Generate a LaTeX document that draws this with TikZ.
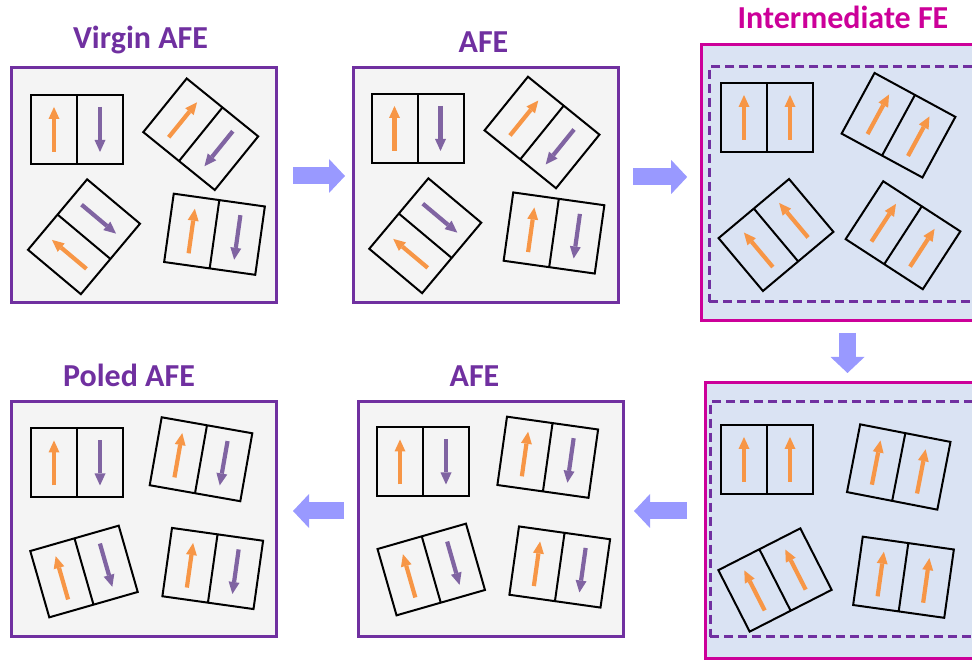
\documentclass[tikz,border=0pt]{standalone}
\usepackage{fontspec}
\setmainfont{Carlito}
\usetikzlibrary{arrows.meta}

\definecolor{afepurple}{HTML}{7030A0}
\definecolor{femagenta}{HTML}{CC0099}
\definecolor{afefill}{HTML}{F4F4F4}
\definecolor{fefill}{HTML}{DAE3F3}
\definecolor{flowblue}{HTML}{9999FF}
\definecolor{spinorange}{HTML}{F79646}
\definecolor{spinpurple}{HTML}{8064A2}

\tikzset{
  afepanel/.style={draw=afepurple, line width=3pt, fill=afefill,
    minimum width=265pt, minimum height=235pt, inner sep=0pt},
  fepanel/.style={draw=femagenta, line width=3pt, fill=fefill,
    minimum width=288pt, minimum height=276pt, inner sep=0pt},
  febound/.style={draw=afepurple, line width=3pt, dash pattern=on 9pt off 5pt,
    minimum width=266pt, minimum height=235pt, inner sep=0pt},
  afetitle/.style={text=afepurple, font=\bfseries\fontsize{32}{38}\selectfont, anchor=base},
  fetitle/.style={text=femagenta, font=\bfseries\fontsize{32}{38}\selectfont, anchor=base},
  flow/.style={draw=flowblue, line width=17pt,
    -{Triangle[length=16pt,width=34pt,line width=0pt]}},
  cellline/.style={draw=black, line width=2pt},
  upspin/.style={draw=spinorange, line width=4.2pt,
    -{Triangle[length=12pt,width=11pt,line width=0pt]}},
  downspin/.style={draw=spinpurple, line width=4.2pt,
    -{Triangle[length=12pt,width=11pt,line width=0pt]}},
  pics/afecell/.style={code={
    \draw[cellline] (-46,-34.5) rectangle (46,34.5) (0,-34.5) -- (0,34.5);
    \draw[upspin] (-23,-22.5) -- (-23,22.5);
    \draw[downspin] (23,22.5) -- (23,-22.5);
  }},
  pics/fecell/.style={code={
    \draw[cellline] (-46,-34.5) rectangle (46,34.5) (0,-34.5) -- (0,34.5);
    \draw[upspin] (-23,-22.5) -- (-23,22.5);
    \draw[upspin] (23,-22.5) -- (23,22.5);
  }},
}

\begin{document}
\begin{tikzpicture}[x=1pt, y=1pt]
  \clip (0,0) rectangle (972,659);

  % panels
  \node[afepanel] (virgin) at (143.5,474.25) {};
  \node[afepanel] (afe1) at (485.75,474.25) {};
  \node[fepanel] (inter1) at (845.7,476) {};
  \node[febound] (inter1b) at (842.3,474.8) {};
  \node[fepanel] (inter2) at (849,138.5) {};
  \node[febound] (inter2b) at (843,139.8) {};
  \node[afepanel] (afe2) at (491,140.15) {};
  \node[afepanel] (poled) at (143.65,140.15) {};

  % titles
  \node[afetitle] (virgintitle) at (140.5,610) {Virgin AFE};
  \node[afetitle] (afe1title) at (483.5,606) {AFE};
  \node[fetitle] (intertitle) at (843,630) {Intermediate FE};
  \node[afetitle] (poledtitle) at (129,272) {Poled AFE};
  \node[afetitle] (afe2title) at (474.5,272) {AFE};

  % virgin AFE
  \pic at (77,529.5) {afecell};
  \pic[rotate=-39] at (200.75,524.75) {afecell};
  \pic[rotate=50] at (84,422.25) {afecell};
  \pic[rotate=-8] at (214.5,424.75) {afecell};

  % AFE
  \pic at (417.5,530.5) {afecell};
  \pic[rotate=-39] at (542,526.5) {afecell};
  \pic[rotate=50] at (425.25,423.25) {afecell};
  \pic[rotate=-8] at (554,426) {afecell};

  % intermediate FE
  \pic at (767,541.5) {fecell};
  \pic[rotate=-28.5] at (898.5,533.75) {fecell};
  \pic[rotate=40] at (776,424) {fecell};
  \pic[rotate=-33] at (903,423.75) {fecell};

  % FE
  \pic at (767,199.5) {fecell};
  \pic[rotate=-11] at (898.75,192) {fecell};
  \pic[rotate=27] at (775,79) {fecell};
  \pic[rotate=-8] at (903.5,81.75) {fecell};

  % AFE again
  \pic at (423,197) {afecell};
  \pic[rotate=-8] at (547.75,201.75) {afecell};
  \pic[rotate=16] at (431.25,89.5) {afecell};
  \pic[rotate=-8] at (559.75,92) {afecell};

  % poled AFE
  \pic at (77,196) {afecell};
  \pic[rotate=-10] at (201,199.75) {afecell};
  \pic[rotate=16] at (84,87.5) {afecell};
  \pic[rotate=-8] at (212.75,90.5) {afecell};

  % flow arrows
  \draw[flow] ([xshift=15.5pt,yshift=8.75pt]virgin.east) -- ([xshift=-6.75pt,yshift=8.75pt]afe1.west);
  \draw[flow] ([xshift=13.25pt,yshift=7.75pt]afe1.east) -- ([xshift=-13pt,yshift=6pt]inter1.west);
  \draw[flow] ([xshift=147.3pt,yshift=-10.5pt]inter1.south west) -- ([xshift=144pt,yshift=8pt]inter2.north west);
  \draw[flow] ([xshift=-16.5pt,yshift=9.5pt]inter2.west) -- ([xshift=9pt,yshift=7.85pt]afe2.east);
  \draw[flow] ([xshift=-13pt,yshift=7.85pt]afe2.west) -- ([xshift=15.35pt,yshift=7.85pt]poled.east);
\end{tikzpicture}
\end{document}
